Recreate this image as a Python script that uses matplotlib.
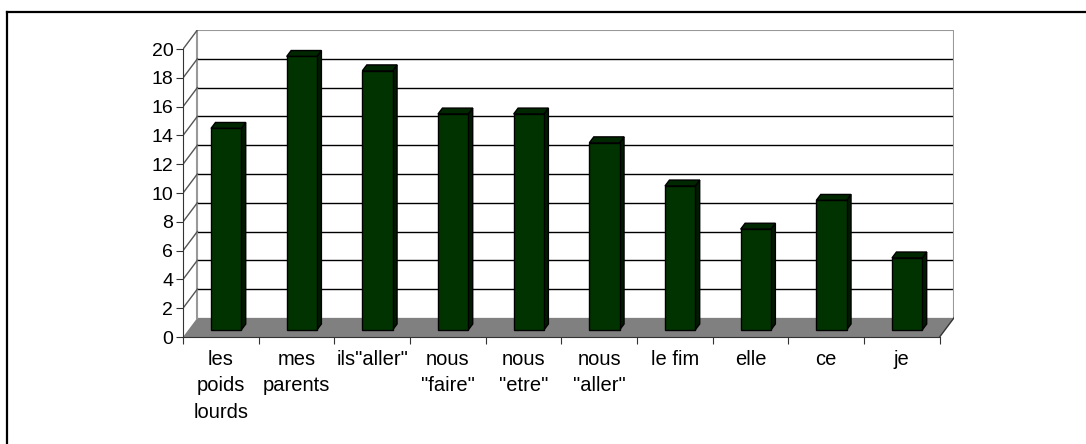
import numpy as np
import matplotlib.pyplot as plt
from matplotlib.patches import Polygon

plt.rcParams['font.family'] = ['Liberation Sans', 'DejaVu Sans']

categories = ['les\npoids\nlourds', 'mes\nparents', 'ils"aller"', 'nous\n"faire"',
              'nous\n"etre"', 'nous\n"aller"', 'le fim', 'elle', 'ce', 'je']
values = [14, 19, 18, 15, 15, 13, 10, 7, 9, 5]
yticks = list(range(0, 21, 2))

n = len(categories)
ymax = 20
dx, dy = 0.19, 1.33      # depth of the 3d box, data units
bw = 0.40                # bar width
f0, f1 = 0.37, 0.68      # bar front / back as fraction of depth

face = '#003300'
side = '#001c00'
top = '#002800'

fig = plt.figure(figsize=(10.86, 4.44), dpi=100)
# outer frame (only top and left visible, box runs off the picture)
fig.add_artist(plt.Line2D([7 / 1086, 7 / 1086], [0, 1 - 12 / 444], color='black', lw=1.6))
fig.add_artist(plt.Line2D([7 / 1086, 1], [1 - 12 / 444, 1 - 12 / 444], color='black', lw=1.6))

ax = fig.add_axes([183 / 1086, 107 / 444, 771 / 1086, 307 / 444])
ax.set_xlim(0, n + dx)
ax.set_ylim(0, ymax + dy)
for s in ['top', 'right']:
    ax.spines[s].set_visible(False)
ax.spines['left'].set_bounds(0, ymax)
ax.spines['bottom'].set_bounds(0, n)
ax.spines['left'].set_color('#333333')
ax.spines['bottom'].set_color('#333333')

# floor
ax.add_patch(Polygon([(0, 0), (n, 0), (n + dx, dy), (dx, dy)], closed=True,
                     facecolor='#808080', edgecolor='none', zorder=1))
ax.plot([n, n + dx], [0, dy], color='#333333', lw=1, zorder=2)

# back wall grid
for k in yticks[1:-1]:
    ax.plot([dx, n + dx], [k + dy, k + dy], color='black', lw=1, zorder=1)
# walls edges and left wall diagonals
ax.plot([dx, n + dx, n + dx], [ymax + dy, ymax + dy, dy], color='#999999', lw=1.5, zorder=1)
ax.plot([dx, dx], [dy, ymax + dy], color='#999999', lw=1.5, zorder=1)
for k in yticks[1:]:
    ax.plot([0, dx], [k, k + dy], color='#555555', lw=1, zorder=1)

# bars
for i, v in enumerate(values):
    x0 = i + 0.5 - bw / 2 + f0 * dx
    y0 = f0 * dy
    ddx = (f1 - f0) * dx
    ddy = (f1 - f0) * dy
    ax.bar(x0, v, width=bw, bottom=y0, align='edge', color=face,
           edgecolor='black', lw=1, zorder=4)
    ax.add_patch(Polygon([(x0 + bw, y0), (x0 + bw + ddx, y0 + ddy),
                          (x0 + bw + ddx, y0 + v + ddy), (x0 + bw, y0 + v)],
                         closed=True, facecolor=side, edgecolor='black', lw=1, zorder=3))
    ax.add_patch(Polygon([(x0, y0 + v), (x0 + bw, y0 + v), (x0 + bw + ddx, y0 + v + ddy),
                          (x0 + ddx, y0 + v + ddy)],
                         closed=True, facecolor=top, edgecolor='black', lw=1, zorder=3))

ax.set_yticks(yticks)
ax.set_yticklabels([str(t) for t in yticks], fontsize=14)
ax.set_xticks(np.arange(0, n + 1))
ax.set_xticklabels([])
ax.set_xticks(np.arange(n) + 0.5, minor=True)
ax.set_xticklabels(categories, minor=True, fontsize=14.5, linespacing=1.5, va='top')
ax.tick_params(axis='x', which='minor', length=0, pad=9)
ax.tick_params(axis='x', which='major', length=5, color='#333333')
ax.tick_params(axis='y', length=5, color='#333333', pad=2)

plt.savefig('out.png', dpi=100)
